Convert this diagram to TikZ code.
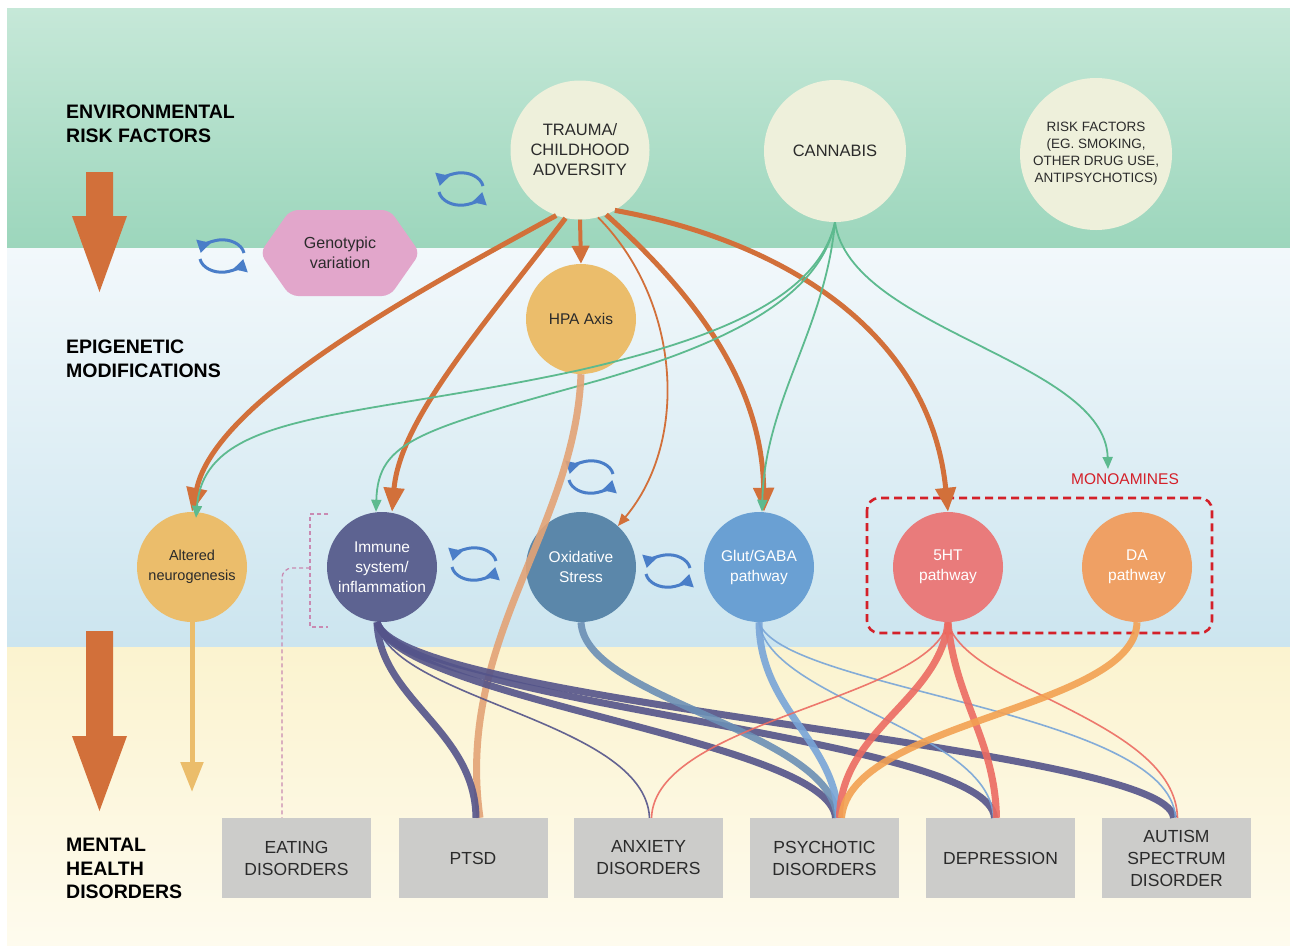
\documentclass[tikz,border=0pt]{standalone}
\usepackage{fontspec}
\setmainfont{Liberation Sans}
\usepackage{tikz}
\usetikzlibrary{arrows.meta,shapes,shapes.symbols,calc}

\definecolor{bandgreentop}{HTML}{C6E8D8}
\definecolor{bandgreenbot}{HTML}{9CD6BC}
\definecolor{bandbluetop}{HTML}{F2F8FB}
\definecolor{bandbluebot}{HTML}{CCE5EF}
\definecolor{bandcreamtop}{HTML}{FBF3CF}
\definecolor{bandcreambot}{HTML}{FEFBEE}
\definecolor{riskfill}{HTML}{EEF0DB}
\definecolor{traumaorange}{HTML}{D2703A}
\definecolor{cannabisgreen}{HTML}{5DBA8F}
\definecolor{cycleblue}{HTML}{4A7EC8}
\definecolor{genopink}{HTML}{E2A6CB}
\definecolor{hpayellow}{HTML}{EBBD6B}
\definecolor{immunepurple}{HTML}{5D6391}
\definecolor{oxidblue}{HTML}{5B87AA}
\definecolor{glutblue}{HTML}{6AA0D3}
\definecolor{serotred}{HTML}{E97B7B}
\definecolor{daorange}{HTML}{EFA064}
\definecolor{boxgrey}{HTML}{CCCCCA}
\definecolor{monored}{HTML}{D42029}
\definecolor{bracketpink}{HTML}{C98AB2}
\definecolor{textdark}{HTML}{2B2B2B}
\definecolor{hpaflowcol}{HTML}{E3A376}
\definecolor{immuneflowcol}{HTML}{54548A}
\definecolor{oxidflowcol}{HTML}{6B8FB5}
\definecolor{glutflowcol}{HTML}{78A5D8}
\definecolor{serotflowcol}{HTML}{EC6B62}
\definecolor{daflowcol}{HTML}{F3A152}

\tikzstyle{riskfactor}=[circle,fill=riskfill,text=textdark,align=center,inner sep=0pt,font=\fontsize{16.5}{20}\selectfont]
\tikzstyle{mechanism}=[circle,minimum size=110pt,inner sep=0pt,align=center,text=white,font=\fontsize{15.5}{20}\selectfont]
\tikzstyle{light mechanism}=[mechanism,text=textdark]
\tikzstyle{disorder}=[rectangle,fill=boxgrey,minimum width=149pt,minimum height=80pt,inner sep=0pt,align=center,text=textdark,font=\fontsize{17.5}{22}\selectfont]
\tikzstyle{levellabel}=[anchor=north west,align=left,inner sep=0pt,text=black,font=\bfseries\fontsize{19.5}{23.5}\selectfont]
\tikzstyle{bigarrow}=[fill=traumaorange]
\tikzstyle{traumaedge}=[draw=traumaorange,line width=5pt,-{Triangle[width=20pt,length=24pt]}]
\tikzstyle{thin traumaedge}=[draw=traumaorange,line width=1.8pt,-{Triangle[width=10pt,length=12pt]}]
\tikzstyle{cannabisedge}=[draw=cannabisgreen,line width=1.8pt,-{Triangle[width=10pt,length=12pt]}]
\tikzstyle{flow}=[draw,line width=7pt,opacity=0.9]
\tikzstyle{thinflow}=[draw,line width=1.6pt,opacity=0.9]
\tikzstyle{cyclearrow}=[draw=cycleblue,line width=3pt,-{Triangle[width=14pt,length=12pt]}]
\tikzstyle{bracket}=[draw=bracketpink,line width=1.3pt,dash pattern=on 4pt off 3pt]
\tikzstyle{monobox}=[draw=monored,line width=2.6pt,dash pattern=on 8pt off 5pt,rounded corners=12pt]

\begin{document}
\begin{tikzpicture}[x=1pt,y=-1pt]
    \useasboundingbox (0,0) rectangle (1290,951);
    \fill[white] (0,0) rectangle (1290,951);

    % Three background bands
    \shade[top color=bandgreentop,bottom color=bandgreenbot] (7,8) rectangle (1290,248);
    \shade[top color=bandbluetop,bottom color=bandbluebot] (7,248) rectangle (1290,647);
    \shade[top color=bandcreamtop,bottom color=bandcreambot] (7,647) rectangle (1290,945);

    % Level labels and big arrows
    \node[levellabel] (envlabel) at (66,105) {ENVIRONMENTAL\\RISK FACTORS};
    \node[levellabel] (epilabel) at (66,340) {EPIGENETIC\\MODIFICATIONS};
    \node[levellabel] (mhlabel) at (66,838) {MENTAL\\HEALTH\\DISORDERS};
    \path[bigarrow] (86,172) -- (113,172) -- (113,216) -- (127,216) -- (99.5,292) -- (72,216) -- (86,216) -- cycle;
    \path[bigarrow] (86,631) -- (113,631) -- (113,736) -- (127,736) -- (99.5,811) -- (72,736) -- (86,736) -- cycle;

    % Environmental risk factors
    \node[riskfactor,minimum size=139pt] (trauma) at (580,150) {TRAUMA/\\CHILDHOOD\\ADVERSITY};
    \node[riskfactor,minimum size=142pt] (cannabis) at (835,151) {CANNABIS};
    \node[riskfactor,minimum size=152pt,font=\fontsize{13.5}{17}\selectfont] (otherrisk) at (1096,154) {RISK FACTORS\\(EG. SMOKING,\\OTHER DRUG USE,\\ANTIPSYCHOTICS)};
    \node[signal,signal to=west and east,signal pointer angle=110,fill=genopink,minimum width=160pt,minimum height=86pt,
          rounded corners=8pt,text=textdark,align=center,font=\fontsize{16}{20}\selectfont] (genotype) at (340,253) {Genotypic\\variation};

    % Epigenetic mechanisms
    \node[light mechanism,fill=hpayellow] (hpa) at (581,319) {HPA Axis};
    \node[light mechanism,fill=hpayellow,font=\fontsize{14.5}{20}\selectfont] (neuro) at (192,567) {Altered\\neurogenesis};
    \node[mechanism,fill=immunepurple] (immune) at (382,567) {Immune\\system/\\inflammation};
    \node[mechanism,fill=oxidblue] (oxid) at (581,567) {Oxidative\\Stress};
    \node[mechanism,fill=glutblue] (glut) at (759,567) {Glut/GABA\\pathway};
    \node[mechanism,fill=serotred] (serot) at (948,567) {5HT\\pathway};
    \node[mechanism,fill=daorange] (dopa) at (1137,567) {DA\\pathway};
    \node[text=monored,font=\fontsize{15.5}{18}\selectfont] (monolabel) at (1125,479) {MONOAMINES};
    \path[monobox] (867,498) rectangle (1212,633);

    % Mental health disorders
    \foreach \pos/\name/\txt in {{(296.5,858)/eating/{EATING\\DISORDERS}}, {(473,858)/ptsd/PTSD},
        {(648.5,858)/anxiety/{ANXIETY\\DISORDERS}}, {(824.5,858)/psychotic/{PSYCHOTIC\\DISORDERS}},
        {(1000.5,858)/depression/DEPRESSION}, {(1176.5,858)/autism/{AUTISM\\SPECTRUM\\DISORDER}}}
        \node[disorder] (\name) at \pos {\txt};

    % Interaction cycles
    \foreach \pos in {{(461,189)}, {(222,256)}, {(591,477)}, {(474,564)}, {(668,571)}} {
        \path[cyclearrow] \pos ++(22,-3) arc[start angle=-10,end angle=-170,x radius=22,y radius=16];
        \path[cyclearrow] \pos ++(-22,3) arc[start angle=170,end angle=10,x radius=22,y radius=16];
    }

    % Trauma edges
    \path[traumaedge] (trauma.250) .. controls (420,290) and (215,400) .. (neuro.north);
    \path[traumaedge] (trauma.258) .. controls (480,330) and (400,420) .. ([xshift=10pt]immune.north);
    \path[traumaedge,line width=4pt,-{Triangle[width=17pt,length=18pt]}] (trauma.south) -- (hpa.north);
    \path[thin traumaedge] (trauma.285) .. controls (680,300) and (690,440) .. (oxid.48);
    \path[traumaedge] (trauma.292) .. controls (690,290) and (762,380) .. ([xshift=5pt]glut.north);
    \path[traumaedge] (trauma.300) .. controls (780,240) and (930,330) .. (serot.north);

    % Cannabis edges
    \path[cannabisedge] (cannabis.south) .. controls (818,300) and (710,340) .. (580,370)
        .. controls (350,420) and (205,410) .. ([xshift=4pt,yshift=-6pt]neuro.north);
    \path[cannabisedge] (cannabis.south) .. controls (820,300) and (720,345) .. (600,380)
        .. controls (420,430) and (378,440) .. ([xshift=-6pt]immune.north);
    \path[cannabisedge] (cannabis.south) .. controls (825,330) and (765,400) .. ([xshift=3pt]glut.north);
    \path[cannabisedge] (cannabis.south) .. controls (850,330) and (1105,360) .. ([xshift=-17pt,yshift=1pt]monolabel.north);

    % Neurogenesis arrow and eating bracket
    \coordinate (neuroend) at (192,792);
    \draw[hpayellow,line width=5pt,-{Triangle[width=22pt,length=30pt]}] (neuro.south) -- (neuroend);
    \draw[bracket] (328,514) -- (310,514) -- (310,627) -- (328,627);
    \draw[bracket,rounded corners=10pt] (310,568) -- (282,568) -- ([xshift=-14.5pt]eating.north);

    % Flows to disorders
    \draw[flow,hpaflowcol] (hpa.south) .. controls (575,530) and (455,640) .. ([xshift=7pt]ptsd.north);
    \draw[flow,immuneflowcol] ([xshift=-5pt]immune.south) .. controls (380,700) and (475,730) .. ([xshift=3pt]ptsd.north);
    \draw[thinflow,immuneflowcol] ([xshift=-5pt]immune.south) .. controls (390,700) and (645,720) .. ([xshift=1pt]anxiety.north);
    \draw[flow,immuneflowcol] ([xshift=-5pt]immune.south) .. controls (400,700) and (830,740) .. ([xshift=11pt]psychotic.north);
    \draw[flow,immuneflowcol] ([xshift=-5pt]immune.south) .. controls (400,705) and (990,735) .. ([xshift=-6pt]depression.north);
    \draw[flow,immuneflowcol] ([xshift=-5pt]immune.south) .. controls (400,705) and (1170,745) .. ([xshift=-3pt]autism.north);
    \draw[flow,oxidflowcol] (oxid.south) .. controls (585,700) and (830,730) .. ([xshift=13pt]psychotic.north);
    \draw[flow,glutflowcol] (glut.south) .. controls (760,710) and (835,740) .. ([xshift=14pt]psychotic.north);
    \draw[thinflow,glutflowcol] (glut.south) .. controls (770,700) and (990,730) .. ([xshift=-7pt]depression.north);
    \draw[thinflow,glutflowcol] (glut.south) .. controls (780,690) and (1170,710) .. ([xshift=-1pt]autism.north);
    \draw[thinflow,serotflowcol] (serot.south) .. controls (930,700) and (655,720) .. ([xshift=3pt]anxiety.north);
    \draw[flow,serotflowcol] (serot.south) .. controls (940,700) and (840,730) .. ([xshift=15pt]psychotic.north);
    \draw[flow,serotflowcol] (serot.south) .. controls (955,700) and (995,740) .. ([xshift=-4pt]depression.north);
    \draw[thinflow,serotflowcol] (serot.south) .. controls (965,690) and (1175,720) .. ([xshift=1pt]autism.north);
    \draw[flow,daflowcol] (dopa.south) .. controls (1135,710) and (850,720) .. ([xshift=17pt]psychotic.north);
\end{tikzpicture}
\end{document}
